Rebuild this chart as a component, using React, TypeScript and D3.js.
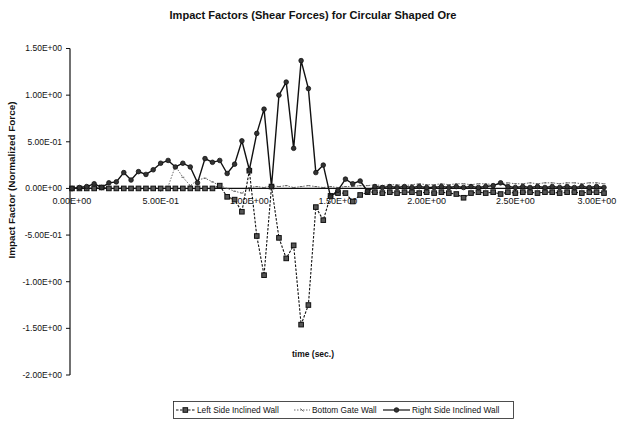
import * as d3 from "d3";

// time steps (sec.)
const times = [
  0, 0.042, 0.083, 0.125, 0.167, 0.208, 0.25, 0.292, 0.333, 0.375, 0.417, 0.458,
  0.5, 0.542, 0.583, 0.625, 0.667, 0.708, 0.75, 0.792, 0.833, 0.875, 0.917, 0.958,
  1, 1.042, 1.083, 1.125, 1.167, 1.208, 1.25, 1.292, 1.333, 1.375, 1.417, 1.458,
  1.5, 1.542, 1.583, 1.625, 1.667, 1.708, 1.75, 1.792, 1.833, 1.875, 1.917, 1.958,
  2, 2.042, 2.083, 2.125, 2.167, 2.208, 2.25, 2.292, 2.333, 2.375, 2.417, 2.458,
  2.5, 2.542, 2.583, 2.625, 2.667, 2.708, 2.75, 2.792, 2.833, 2.875, 2.917, 2.958, 3,
];

const leftWall = [
  0, 0, 0, 0, 0.01, 0, 0, 0, 0, 0, 0, 0, 0, 0, 0, 0, 0, 0, 0, 0,
  0.03, -0.09, -0.12, -0.25, 0.19, -0.51, -0.93, 0.02, -0.53, -0.75, -0.61, -1.46,
  -1.25, -0.2, -0.34, -0.08, -0.05, -0.05, -0.14, -0.07, -0.04,
  -0.04, -0.05, -0.04, -0.05, -0.04, -0.04, -0.05, -0.04, -0.05, -0.04, -0.05, -0.06,
  -0.1, -0.05, -0.04, -0.05, -0.04, -0.06, -0.04, -0.05, -0.04, -0.04, -0.05, -0.04,
  -0.04, -0.05, -0.04, -0.04, -0.05, -0.04, -0.04, -0.05,
];

const bottomGate = [
  0, 0.01, 0, 0.01, 0, 0, 0.01, 0, 0.01, 0, -0.01, 0, 0.01,
  0.02, 0.24, 0.12, 0.03, 0.09, 0.11, 0.07, 0.03, 0, -0.03, -0.05, 0.01, 0.02,
  0.01, 0.03, 0.02, 0.03, 0.01, 0.02, 0.03, 0.02, 0.01, 0.02, 0.01, 0.02, 0.02,
  0.03, 0.03, 0.04, 0.03, 0.04, 0.04, 0.03, 0.04, 0.05, 0.04, 0.04, 0.05, 0.04,
  0.05, 0.05, 0.04, 0.05, 0.05, 0.04, 0.05, 0.06, 0.05, 0.05, 0.06, 0.05, 0.06,
  0.06, 0.05, 0.06, 0.06, 0.05, 0.06, 0.06, 0.05,
];

const rightWall = [
  0, 0.01, 0.02, 0.05, 0.01, 0.06, 0.07, 0.17, 0.09, 0.18, 0.15, 0.2, 0.27, 0.3,
  0.23, 0.27, 0.23, 0.06, 0.32, 0.28, 0.3, 0.16, 0.26, 0.51, 0.2, 0.59, 0.85, 0.02,
  1.0, 1.14, 0.43, 1.37, 1.07, 0.17, 0.25, -0.09, -0.02, 0.1, 0.05, 0.08, -0.03,
  0.02, 0.01, 0.02, 0.01, 0.02, 0.01, 0.02, 0.01, 0.01, 0.02, 0.01, 0.02, 0.01,
  0.02, 0.01, 0.02, 0.03, 0.06, 0.02, 0.01, 0.02, 0.01, 0.02, 0.01, 0.02, 0.01,
  0.02, 0.01, 0.02, 0.01, 0.02, 0.01,
];

const xTicks = [0, 0.5, 1, 1.5, 2, 2.5, 3];
const yTicks = [1.5, 1, 0.5, 0, -0.5, -1, -1.5, -2];

const fmt = (v: number) => {
  const s = v.toExponential(2).toUpperCase();
  // 5.00E-1 -> 5.00E-01
  return s.replace(/E([+-])(\d)$/, "E$10$2");
};

const FONT = "Arial, 'Liberation Sans', Helvetica, sans-serif";

export default function App() {
  const width = 625;
  const height = 423;

  const x = d3.scaleLinear().domain([0, 3]).range([72, 604]);
  const y = d3.scaleLinear().domain([-2, 1.5]).range([375, 48.5]);

  const line = d3
    .line<number>()
    .x((_, i) => x(times[i]))
    .y((d) => y(d));

  const y0 = y(0);

  return (
    <svg
      width={width}
      height={height}
      style={{ position: "absolute", left: 0, top: 0, background: "#fff" }}
      fontFamily={FONT}
    >
      <rect width={width} height={height} fill="#fff" />

      <text
        x={313}
        y={18.5}
        textAnchor="middle"
        fontSize={10}
        fontWeight="bold"
        textLength={287}
        lengthAdjust="spacingAndGlyphs"
        fill="#111"
      >
        Impact Factors (Shear Forces) for Circular Shaped Ore
      </text>

      {/* y axis */}
      <line x1={70} x2={70} y1={y(1.5)} y2={y(-2)} stroke="#111" strokeWidth={1.2} />
      {yTicks.map((t) => (
        <g key={t}>
          <line x1={66} x2={70} y1={y(t)} y2={y(t)} stroke="#111" />
          <text
            x={62}
            y={y(t)}
            dy="0.35em"
            textAnchor="end"
            fontSize={8.5}
            fill="#111"
          >
            {fmt(t)}
          </text>
        </g>
      ))}
      <text
        transform="translate(15,180) rotate(-90)"
        textAnchor="middle"
        fontSize={9}
        fontWeight="bold"
        textLength={157}
        lengthAdjust="spacingAndGlyphs"
        fill="#111"
      >
        Impact Factor (Normalized Force)
      </text>

      {/* x axis along y = 0 */}
      <line x1={70} x2={x(3)} y1={y0} y2={y0} stroke="#111" strokeWidth={1.2} />
      {xTicks.map((t) => (
        <g key={t}>
          <line x1={x(t)} x2={x(t)} y1={y0} y2={y0 + 3} stroke="#111" />
          <text
            x={t === 3 ? x(t) - 7 : x(t)}
            y={y0 + 16}
            textAnchor="middle"
            fontSize={9}
            fill="#111"
          >
            {fmt(t)}
          </text>
        </g>
      ))}
      <text
        x={313}
        y={357}
        textAnchor="middle"
        fontSize={8.5}
        fontWeight="bold"
        fill="#111"
      >
        time (sec.)
      </text>

      {/* Bottom Gate Wall */}
      <path
        d={line(bottomGate) ?? ""}
        fill="none"
        stroke="#444"
        strokeWidth={0.8}
        strokeDasharray="1.5,1.5"
      />
      {bottomGate.map((v, i) => (
        <line
          key={"b" + i}
          x1={x(times[i]) - 1.5}
          x2={x(times[i]) + 1.5}
          y1={y(v)}
          y2={y(v)}
          stroke="#555"
          strokeWidth={0.8}
        />
      ))}

      {/* Left Side Inclined Wall */}
      <path
        d={line(leftWall) ?? ""}
        fill="none"
        stroke="#111"
        strokeWidth={1.1}
        strokeDasharray="2.5,1.5"
      />
      {leftWall.map((v, i) => (
        <rect
          key={"l" + i}
          x={x(times[i]) - 2.3}
          y={y(v) - 2.3}
          width={4.6}
          height={4.6}
          fill="#555"
          stroke="#111"
          strokeWidth={1}
        />
      ))}

      {/* Right Side Inclined Wall */}
      <path d={line(rightWall) ?? ""} fill="none" stroke="#111" strokeWidth={1.4} />
      {rightWall.map((v, i) => (
        <circle
          key={"r" + i}
          cx={x(times[i])}
          cy={y(v)}
          r={2.3}
          fill="#333"
          stroke="#111"
          strokeWidth={0.8}
        />
      ))}

      {/* legend */}
      <g fontSize={8.3} fill="#111">
        <rect x={173.5} y={401.5} width={340} height={17} fill="#fff" stroke="#222" strokeWidth={0.8} />
        <line x1={176} x2={195} y1={410} y2={410} stroke="#111" strokeDasharray="2.5,1.5" />
        <rect x={183} y={407.7} width={4.6} height={4.6} fill="#555" stroke="#111" strokeWidth={1} />
        <text x={197} y={413}>Left Side Inclined Wall</text>

        <line x1={294} x2={310} y1={410} y2={410} stroke="#444" strokeDasharray="1.5,1.5" strokeWidth={0.8} />
        <line x1={300.5} x2={303.5} y1={408.5} y2={411.5} stroke="#444" strokeWidth={0.8} />
        <text x={312} y={413}>Bottom Gate Wall</text>

        <line x1={383} x2={410} y1={410} y2={410} stroke="#111" strokeWidth={1.2} />
        <circle cx={396.5} cy={410} r={2.3} fill="#333" stroke="#111" strokeWidth={0.8} />
        <text x={412} y={413}>Right Side Inclined Wall</text>
      </g>
    </svg>
  );
}
